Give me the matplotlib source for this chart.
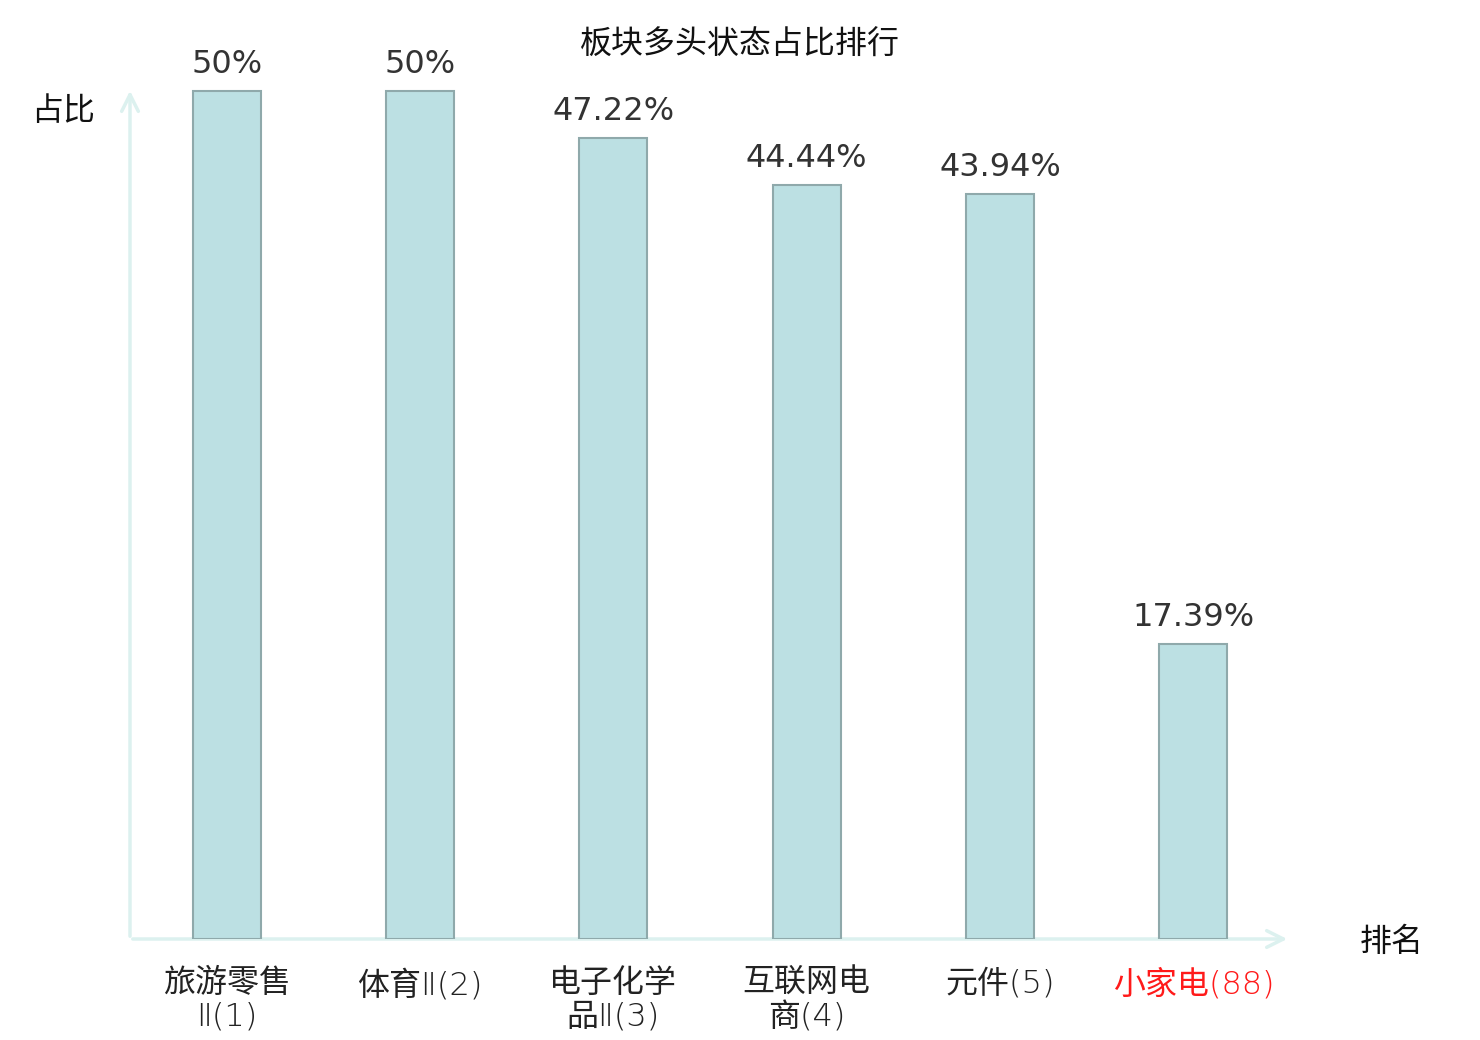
import matplotlib
matplotlib.use("Agg")
import matplotlib.pyplot as plt

categories = ["旅游零售\nⅡ(1)", "体育Ⅱ(2)", "电子化学\n品Ⅱ(3)", "互联网电\n商(4)", "元件(5)", "小家电(88)"]
values = [50, 50, 47.22, 44.44, 43.94, 17.39]
value_labels = ["50%", "50%", "47.22%", "44.44%", "43.94%", "17.39%"]
label_colors = ["#222222", "#222222", "#222222", "#222222", "#222222", "#ff1a1a"]
title = "板块多头状态占比排行"
ylabel = "占比"
xlabel = "排名"

plt.rcParams['font.family'] = ['Noto Sans CJK SC', 'DejaVu Sans']

fig = plt.figure(figsize=(14.8, 10.4), dpi=100)
ax = fig.add_axes([130/1480, (1040-939)/1040, 1160/1480, 851/1040])
x = list(range(len(categories)))
ax.bar(x, values, width=0.353, color="#bce0e3", edgecolor="#8fa9ab", linewidth=1.5, zorder=2)
ax.set_xlim(-0.5, 5.5)
ax.set_ylim(0, 50.18)
for s in ax.spines.values():
    s.set_visible(False)
ax.set_yticks([])
ax.set_xticks(x)
ax.set_xticklabels(categories, fontsize=23, linespacing=1.12, fontweight=200,
                   family=['DejaVu Sans', 'Noto Sans CJK SC'])
for t, c in zip(ax.get_xticklabels(), label_colors):
    t.set_color(c)
ax.tick_params(axis='x', length=0, pad=21)

axis_color = "#dcf1ef"
ax.annotate("", xy=(1.0, 0), xytext=(0, 0), xycoords='axes fraction',
            arrowprops=dict(arrowstyle='->', color=axis_color, lw=2.5, mutation_scale=30), zorder=1)
ax.annotate("", xy=(0, 1.0), xytext=(0, 0), xycoords='axes fraction',
            arrowprops=dict(arrowstyle='->', color=axis_color, lw=2.5, mutation_scale=30), zorder=1)

for xi, v, lab in zip(x, values, value_labels):
    ax.annotate(lab, (xi, v), xytext=(0, 8), textcoords='offset points',
                ha='center', va='bottom', fontsize=23, color="#333333",
                family='DejaVu Sans', annotation_clip=False)

fig.text(740/1480, 1 - 45/1040, title, ha='center', va='center', fontsize=23, color="#111111")
fig.text(63/1480, 1 - 111/1040, ylabel, ha='center', va='center', fontsize=23, color="#111111")
fig.text(1392/1480, 1 - 942/1040, xlabel, ha='center', va='center', fontsize=23, color="#111111")

fig.savefig("out.png", dpi=100)
